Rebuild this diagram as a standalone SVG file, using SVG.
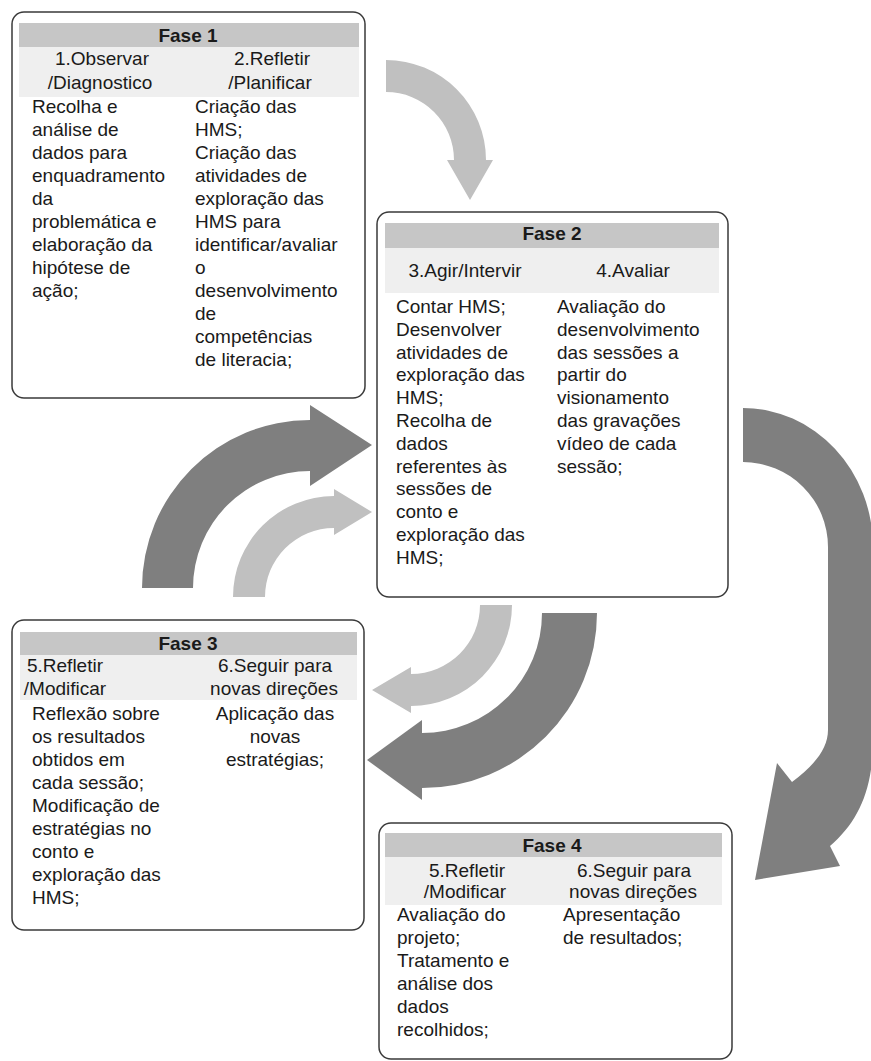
<svg xmlns="http://www.w3.org/2000/svg" width="871" height="1061" viewBox="0 0 871 1061">
<style>
.box{fill:#fff;stroke:#3a3a3a;stroke-width:1.5}
.hd{fill:#c6c6c6}
.sub{fill:#efefef}
text{font-family:"Liberation Sans",Arial,sans-serif;font-size:19px;fill:#1a1a1a}
.t{font-weight:bold;text-anchor:middle}
.c{text-anchor:middle}
.dk{fill:#7f7f7f}
.lt{fill:#c0c0c0}
</style>
<rect width="871" height="1061" fill="#fff"/>
<g id="connectors">
<path class="lt" d="M386,60 A100,100 0 0 1 486,160 L493,160 L470,200 L447,160 L454,160 A68,68 0 0 0 386,92 Z"/>
<path class="dk" d="M142,588 A168,168 0 0 1 310,420 L310,405 L372,445 L310,486 L310,471 A117,117 0 0 0 193,588 Z"/>
<path class="lt" d="M233,597 A101,101 0 0 1 334,496 L334,489 L372,512 L334,535 L334,528 A69,69 0 0 0 265,597 Z"/>
<path class="lt" d="M512,605 A101,101 0 0 1 411,706 L411,713 L372,690 L411,667 L411,674 A69,69 0 0 0 480,605 Z"/>
<path class="dk" d="M597,613 A175,175 0 0 1 422,788 L422,800 L367,760 L422,720 L422,733 A120,120 0 0 0 542,613 Z"/>
<path class="dk" d="M743,408 A130,139 0 0 1 873,547 L873,740 C873,790 858,822 830,846 L840,866 L755,880 L777,763 L792,782 C815,765 828,748 828,730 L828,547 A85,85 0 0 0 743,462 Z"/>
</g>
<g id="fase1">
<rect class="box" x="12" y="12" width="353" height="386" rx="12"/>
<rect class="hd" x="19" y="23" width="340" height="24"/>
<rect class="sub" x="19" y="47" width="340" height="50"/>
<text class="t" x="188" y="42">Fase 1</text>
<text class="c" x="102" y="65">1.Observar</text>
<text class="c" x="100" y="89">/Diagnostico</text>
<text class="c" x="272" y="65">2.Refletir</text>
<text class="c" x="270" y="89">/Planificar</text>
<text x="32" y="113"><tspan x="32" dy="0">Recolha e</tspan><tspan x="32" dy="23">análise de</tspan><tspan x="32" dy="23">dados para</tspan><tspan x="32" dy="23">enquadramento</tspan><tspan x="32" dy="23">da</tspan><tspan x="32" dy="23">problemática e</tspan><tspan x="32" dy="23">elaboração da</tspan><tspan x="32" dy="23">hipótese de</tspan><tspan x="32" dy="23">ação;</tspan></text>
<text x="195" y="113"><tspan x="195" dy="0">Criação das</tspan><tspan x="195" dy="23">HMS;</tspan><tspan x="195" dy="23">Criação das</tspan><tspan x="195" dy="23">atividades de</tspan><tspan x="195" dy="23">exploração das</tspan><tspan x="195" dy="23">HMS para</tspan><tspan x="195" dy="23">identificar/avaliar</tspan><tspan x="195" dy="23">o</tspan><tspan x="195" dy="23">desenvolvimento</tspan><tspan x="195" dy="23">de</tspan><tspan x="195" dy="23">competências</tspan><tspan x="195" dy="23">de literacia;</tspan></text>
</g>
<g id="fase2">
<rect class="box" x="377" y="212" width="351" height="385" rx="12"/>
<rect class="hd" x="385" y="223" width="334" height="25"/>
<rect class="sub" x="385" y="248" width="334" height="45"/>
<text class="t" x="552" y="240">Fase 2</text>
<text class="c" x="465" y="277">3.Agir/Intervir</text>
<text class="c" x="633" y="277">4.Avaliar</text>
<text x="396" y="313"><tspan x="396" dy="0">Contar HMS;</tspan><tspan x="396" dy="22.8">Desenvolver</tspan><tspan x="396" dy="22.8">atividades de</tspan><tspan x="396" dy="22.8">exploração das</tspan><tspan x="396" dy="22.8">HMS;</tspan><tspan x="396" dy="22.8">Recolha de</tspan><tspan x="396" dy="22.8">dados</tspan><tspan x="396" dy="22.8">referentes às</tspan><tspan x="396" dy="22.8">sessões de</tspan><tspan x="396" dy="22.8">conto e</tspan><tspan x="396" dy="22.8">exploração das</tspan><tspan x="396" dy="22.8">HMS;</tspan></text>
<text x="557" y="313"><tspan x="557" dy="0">Avaliação do</tspan><tspan x="557" dy="22.8">desenvolvimento</tspan><tspan x="557" dy="22.8">das sessões a</tspan><tspan x="557" dy="22.8">partir do</tspan><tspan x="557" dy="22.8">visionamento</tspan><tspan x="557" dy="22.8">das gravações</tspan><tspan x="557" dy="22.8">vídeo de cada</tspan><tspan x="557" dy="22.8">sessão;</tspan></text>
</g>
<g id="fase3">
<rect class="box" x="12" y="620" width="352" height="310" rx="12"/>
<rect class="hd" x="20" y="632" width="337" height="23"/>
<rect class="sub" x="20" y="655" width="337" height="45"/>
<text class="t" x="188" y="650">Fase 3</text>
<text class="c" x="65" y="672">5.Refletir</text>
<text class="c" x="65" y="695">/Modificar</text>
<text class="c" x="275" y="672">6.Seguir para</text>
<text class="c" x="274" y="695">novas direções</text>
<text x="32" y="720"><tspan x="32" dy="0">Reflexão sobre</tspan><tspan x="32" dy="23">os resultados</tspan><tspan x="32" dy="23">obtidos em</tspan><tspan x="32" dy="23">cada sessão;</tspan><tspan x="32" dy="23">Modificação de</tspan><tspan x="32" dy="23">estratégias no</tspan><tspan x="32" dy="23">conto e</tspan><tspan x="32" dy="23">exploração das</tspan><tspan x="32" dy="23">HMS;</tspan></text>
<text class="c" x="275" y="720"><tspan x="275" dy="0">Aplicação das</tspan><tspan x="275" dy="23">novas</tspan><tspan x="275" dy="23">estratégias;</tspan></text>
</g>
<g id="fase4">
<rect class="box" x="379" y="823" width="353" height="236" rx="12"/>
<rect class="hd" x="385" y="833" width="337" height="24"/>
<rect class="sub" x="385" y="857" width="337" height="48"/>
<text class="t" x="552" y="852">Fase 4</text>
<text class="c" x="467" y="877">5.Refletir</text>
<text class="c" x="465" y="898">/Modificar</text>
<text class="c" x="634" y="877">6.Seguir para</text>
<text class="c" x="633" y="898">novas direções</text>
<text x="397" y="921"><tspan x="397" dy="0">Avaliação do</tspan><tspan x="397" dy="23">projeto;</tspan><tspan x="397" dy="23">Tratamento e</tspan><tspan x="397" dy="23">análise dos</tspan><tspan x="397" dy="23">dados</tspan><tspan x="397" dy="23">recolhidos;</tspan></text>
<text x="563" y="921"><tspan x="563" dy="0">Apresentação</tspan><tspan x="563" dy="23">de resultados;</tspan></text>
</g>
</svg>
